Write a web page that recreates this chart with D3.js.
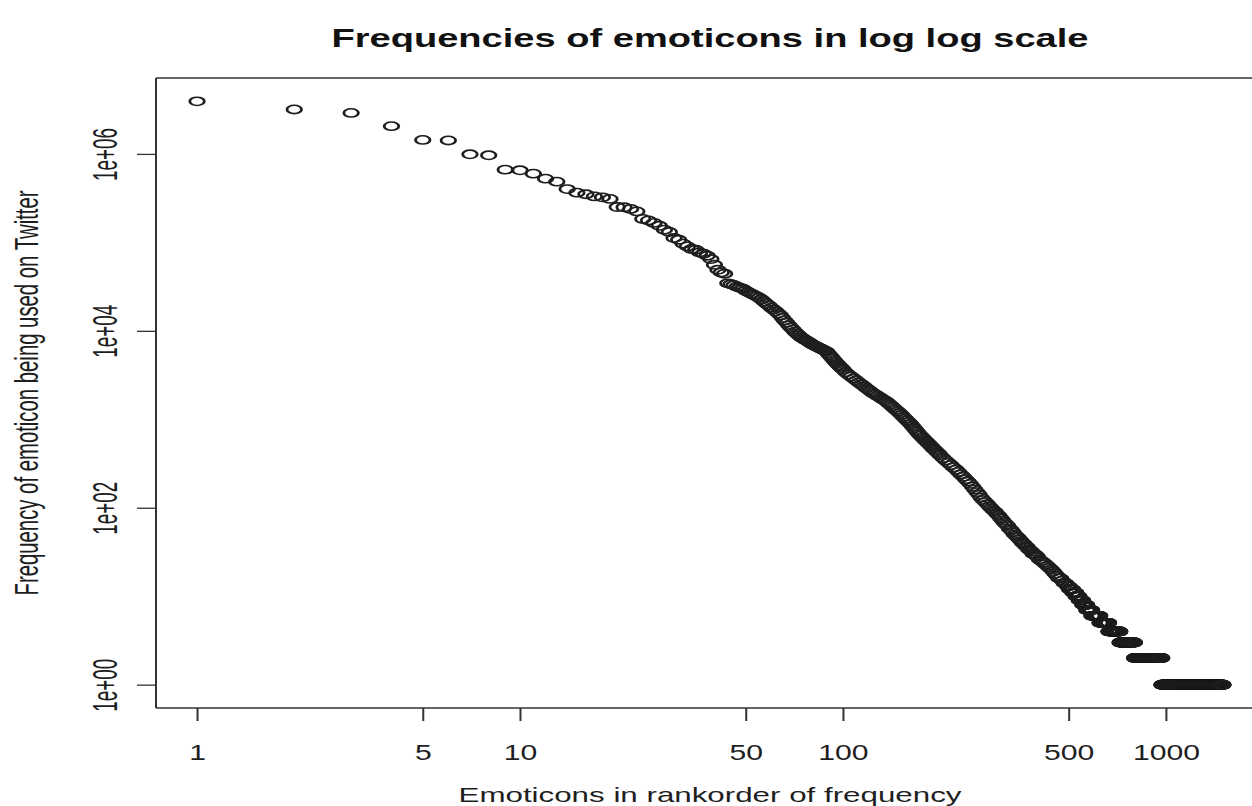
<!DOCTYPE html>
<html lang="en">
<head>
<meta charset="UTF-8">
<title>Frequencies of emoticons in log log scale</title>
<script src="https://d3js.org/d3.v7.min.js"></script>
<style>
  body { margin: 0; background: #fff; }
  svg { display: block; font-family: "Liberation Sans", Arial, Helvetica, sans-serif; }
</style>
</head>
<body>
<svg width="1252" height="806"></svg>
<script>
// ranks 1..50, one count per emoticon
const topFreq = [3930000, 3180000, 2910000, 2060000, 1440000, 1420000, 990000, 964000, 664000, 653000,
  598000, 525000, 486000, 400000, 365000, 350000, 331000, 323000, 310000, 251000,
  249000, 239000, 224000, 184000, 177000, 166000, 154000, 139000, 131000, 112000,
  107000, 96600, 90000, 84100, 82600, 76900, 74300, 70600, 64700, 55800,
  49000, 45700, 44200, 34400, 33600, 32700, 31500, 30700, 29900, 28400];

// dense part of the curve, read at sampled ranks
const midRank = [51, 52, 53, 54, 55, 56, 57, 58, 59, 60, 61, 62, 63, 64, 65, 66, 67, 68, 69, 70,
  71, 72, 73, 74, 75, 76, 77, 78, 79, 80, 81, 82, 83, 84, 85, 86, 87, 88, 89, 90,
  91, 92, 93, 94, 95, 96, 97, 98, 99, 100,
  102, 104, 106, 108, 110, 112, 114, 116, 118, 120, 122, 124, 126, 128, 130, 132, 134, 136, 138, 140,
  142, 144, 146, 148, 150, 152, 154, 156, 158, 160, 162, 164, 166, 168, 170, 172, 174, 176, 178, 180,
  182, 184, 186, 188, 190, 192, 194, 196, 198, 200,
  204, 208, 212, 216, 220, 224, 228, 232, 236, 240, 244, 248, 252, 256, 260, 264, 268, 272, 276, 280,
  284, 288, 292, 296, 300, 304, 308, 312, 316, 320, 324, 328, 332, 336, 340, 344, 348, 352, 356, 360,
  364, 368, 372, 376, 380, 384, 388, 392, 396, 400,
  406, 412, 418, 424, 430, 436, 442, 448, 454, 460, 466, 472, 478, 484, 490, 496, 502];
const midFreq = [27350, 26360, 25410, 24550, 23710, 22590, 21380, 20280, 19280, 18280,
  17380, 16600, 15780, 15000, 14000, 13120, 12330, 11560, 10910, 10330,
  9795, 9333, 8892, 8492, 8241, 7998, 7762, 7551, 7328, 7112,
  6918, 6761, 6622, 6486, 6339, 6209, 6067, 5943, 5821, 5559,
  5297, 5070, 4842, 4624, 4426, 4236, 4083, 3936, 3793, 3656,
  3396, 3206, 3041, 2891, 2748, 2612, 2489, 2371, 2265, 2158,
  2065, 1972, 1901, 1837, 1770, 1706, 1648, 1596, 1528, 1462,
  1396, 1334, 1276, 1225, 1172, 1119, 1064, 1016, 970, 927,
  883, 838, 796, 755, 719, 682, 652, 625, 600, 575,
  553, 532, 512, 491, 472, 455, 439, 423, 407, 393,
  365, 343, 322, 304, 286, 270, 254, 238, 224, 210,
  198, 186, 173, 161, 150, 140, 130, 122, 116, 110,
  104, 99, 94, 90, 85, 81, 76, 72, 68, 65,
  62, 58, 56, 53, 50, 48, 46, 44, 42, 40,
  39, 37, 36, 34, 33, 32, 30, 30, 29, 28,
  26, 25, 24, 23, 22, 21, 20, 19, 18, 17, 16, 16, 15, 14, 14, 13, 13];

// tail: how many emoticons share each small count
const tailFreq = [12, 11, 10, 9, 8, 7, 6, 5, 4, 3, 2, 1];
const tailCount = [12, 12, 12, 14, 16, 21, 35, 41, 55, 79, 172, 531];

const xTicks = [1, 5, 10, 50, 100, 500, 1000];
const yTicks = [1, 1e2, 1e4, 1e6];
const yTickLabels = ["1e+00", "1e+02", "1e+04", "1e+06"];

// put the points together in rank order
const data = [];
topFreq.forEach((f, i) => data.push({rank: i + 1, freq: f}));
midRank.forEach((r, i) => data.push({rank: r, freq: midFreq[i]}));
let nextRank = midRank[midRank.length - 1] + 1;
tailFreq.forEach((f, i) => {
  for (let k = 0; k < tailCount[i]; k++) data.push({rank: nextRank++, freq: f});
});

const svg = d3.select("svg");
const plot = {left: 156, right: 1264, top: 78, bottom: 708};
const ink = "#1e1e1e";

// R-style 4% padding of the data range (in log space)
function padLog(lo, hi) {
  const a = Math.log10(lo), b = Math.log10(hi), e = (b - a) * 0.04;
  return [Math.pow(10, a - e), Math.pow(10, b + e)];
}

const x = d3.scaleLog()
  .domain(padLog(d3.min(data, d => d.rank), d3.max(data, d => d.rank)))
  .range([plot.left, plot.right]);
const y = d3.scaleLog()
  .domain(padLog(d3.min(data, d => d.freq), d3.max(data, d => d.freq)))
  .range([plot.bottom, plot.top]);

// the picture is stretched sideways, so the marks are too
const sx = 1.75;
svg.append("g")
  .selectAll("circle")
  .data(data)
  .join("circle")
  .attr("transform", d => `translate(${x(d.rank)},${y(d.freq)}) scale(${sx},1)`)
  .attr("r", 4.15)
  .attr("fill", "none")
  .attr("stroke", ink)
  .attr("stroke-width", 1.6);

// plot box (right side runs off the picture)
const box = svg.append("g").attr("stroke", "#333").attr("fill", "none");
box.append("line").attr("x1", plot.left).attr("x2", plot.left)
  .attr("y1", plot.top).attr("y2", plot.bottom).attr("stroke-width", 2);
box.append("line").attr("x1", plot.left).attr("x2", plot.right)
  .attr("y1", plot.top).attr("y2", plot.top).attr("stroke-width", 1.3);
box.append("line").attr("x1", plot.left).attr("x2", plot.right)
  .attr("y1", plot.bottom).attr("y2", plot.bottom).attr("stroke-width", 1.3);

// x axis
const xAxis = svg.append("g")
  .attr("transform", `translate(0,${plot.bottom})`)
  .call(d3.axisBottom(x).tickValues(xTicks).tickFormat(d3.format("d")).tickSize(13));
xAxis.select(".domain").remove();
xAxis.selectAll(".tick line").attr("stroke", "#333").attr("stroke-width", 2);
xAxis.selectAll(".tick text")
  .attr("y", 52).attr("dy", null)
  .attr("fill", ink)
  .style("font-size", "22px")
  .style("font-family", "'Liberation Sans', Arial, sans-serif")
  .each(function() {
    const len = this.getComputedTextLength();
    d3.select(this).attr("textLength", len * 1.37).attr("lengthAdjust", "spacingAndGlyphs");
  });

// y axis, labels turned on their side
const yAxis = svg.append("g")
  .attr("transform", `translate(${plot.left},0)`)
  .call(d3.axisLeft(y).tickValues(yTicks).tickFormat((d, i) => yTickLabels[i]).tickSize(19));
yAxis.select(".domain").remove();
yAxis.selectAll(".tick line").attr("stroke", "#333").attr("stroke-width", 1.3);
yAxis.selectAll(".tick text")
  .attr("x", null).attr("dy", null)
  .attr("text-anchor", "middle")
  .attr("transform", "translate(-39,0) scale(1.85,1) rotate(-90)")
  .attr("fill", ink)
  .attr("textLength", 53).attr("lengthAdjust", "spacingAndGlyphs")
  .style("font-size", "19px")
  .style("font-family", "'Liberation Sans', Arial, sans-serif");

const midX = (plot.left + plot.right) / 2;
const midY = (plot.top + plot.bottom) / 2;

// title
svg.append("text")
  .attr("x", midX).attr("y", 47)
  .attr("text-anchor", "middle")
  .attr("font-weight", "bold")
  .attr("font-size", 26)
  .attr("fill", "#111")
  .attr("textLength", 757).attr("lengthAdjust", "spacingAndGlyphs")
  .text("Frequencies of emoticons in log log scale");

// axis titles
svg.append("text")
  .attr("x", midX).attr("y", 802)
  .attr("text-anchor", "middle")
  .attr("font-size", 21)
  .attr("fill", ink)
  .attr("textLength", 503).attr("lengthAdjust", "spacingAndGlyphs")
  .text("Emoticons in rankorder of frequency");

svg.append("text")
  .attr("transform", `translate(38,${midY}) scale(1.65,1) rotate(-90)`)
  .attr("text-anchor", "middle")
  .attr("font-size", 20)
  .attr("fill", ink)
  .attr("textLength", 405).attr("lengthAdjust", "spacingAndGlyphs")
  .text("Frequency of emoticon being used on Twitter");
</script>
</body>
</html>
